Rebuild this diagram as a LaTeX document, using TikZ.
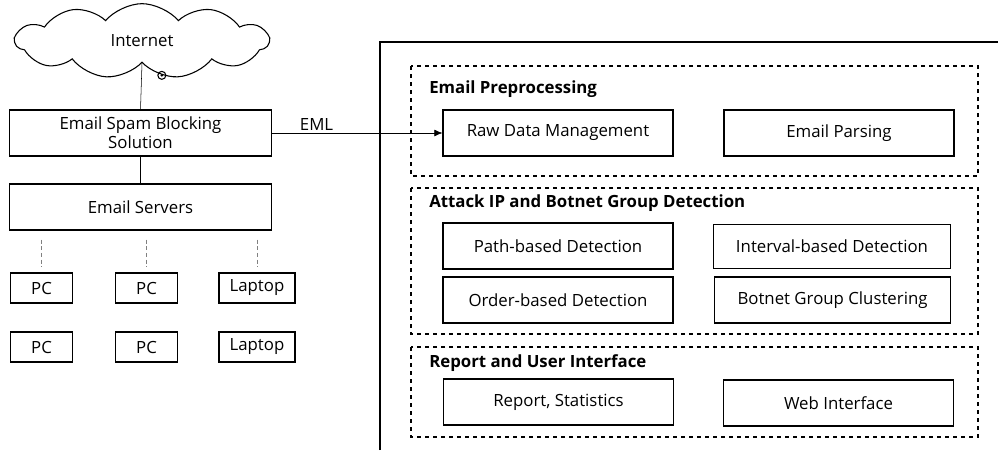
\documentclass[tikz,border=0pt]{standalone}
\usepackage{fontspec}
\setmainfont{Open Sans}
\usetikzlibrary{shapes.symbols,arrows.meta}
\begin{document}
\begin{tikzpicture}[x=0.75pt,y=-0.75pt,
    every node/.style={font=\fontsize{12.6}{14.5}\selectfont},
    unit/.style={draw,line width=0.8pt,minimum width=172.5pt,minimum height=34.5pt,inner sep=2pt},
    wideunit/.style={unit,minimum width=177.5pt,minimum height=33pt},
    host/.style={draw,line width=0.8pt,minimum height=22.5pt,minimum width=47pt,inner sep=2pt},
    group/.style={draw,dashed,line width=0.8pt},
    grouptitle/.style={anchor=west,inner sep=0pt,font=\fontsize{12.6}{14.5}\selectfont\bfseries},
    lanlink/.style={densely dashed,gray,line width=0.5pt,shorten <=6.75pt,shorten >=3.75pt}]
    \useasboundingbox (0,0) rectangle (998,450);
    %% network side
    \node[cloud,draw,line width=0.8pt,cloud puffs=11,cloud puff arc=100,aspect=3.6,
        minimum width=190pt,minimum height=56pt,inner sep=0pt] (internet) at (142,41) {Internet};
    \draw[line width=0.8pt] (internet.-60) circle (3pt);
    \fill (internet.-60) circle (1.1pt);
    \node[unit,minimum width=197pt,align=center] (spam) at (140.5,133)
        {Email Spam Blocking\\Solution};
    \node[unit,minimum width=197pt] (servers) at (140.5,207) {Email Servers};
    \node[host] (pcA) at (41.5,288) {PC};
    \node[host] (pcB) at (146.5,288) {PC};
    \node[host,minimum width=57pt] (laptopA) at (257,288) {Laptop};
    \node[host] (pcC) at (41.5,347) {PC};
    \node[host] (pcD) at (146.5,347) {PC};
    \node[host,minimum width=57pt] (laptopB) at (257,347) {Laptop};
    \draw (internet.south) -- (spam.north);
    \draw (spam) -- (servers);
    \draw[lanlink] (pcA.north |- servers.south) -- (pcA.north);
    \draw[lanlink] (pcB.north |- servers.south) -- (pcB.north);
    \draw[lanlink] (laptopA.north |- servers.south) -- (laptopA.north);
    %% analysis system
    \draw[line width=0.8pt] (380,450) -- (380,42) -- (998,42);
    \draw[group] (411,66) rectangle (978,176);
    \draw[group] (411,188) rectangle (978,334);
    \draw[group] (411,347) rectangle (978,437);
    \node[grouptitle] (prepTitle) at (429,89) {Email Preprocessing};
    \node[grouptitle] (detTitle) at (429,203) {Attack IP and Botnet Group Detection};
    \node[grouptitle] (repTitle) at (429,363) {Report and User Interface};
    \node[unit] (raw) at (558,133) {Raw Data Management};
    \node[unit] (parse) at (839,133) {Email Parsing};
    \node[unit] (path) at (558,246) {Path-based Detection};
    \node[wideunit] (interval) at (832,246.5) {Interval-based Detection};
    \node[unit] (order) at (558,300) {Order-based Detection};
    \node[wideunit,minimum height=34.5pt] (botnet) at (832.5,300) {Botnet Group Clustering};
    \node[unit] (report) at (558.5,402) {Report, Statistics};
    \node[unit] (web) at (838.5,403) {Web Interface};
    %% mail feed
    \draw[-{Latex[length=6pt,width=5pt]}] (spam.east) -- (raw.west)
        node[pos=0.26,above,inner sep=2pt] {EML};
\end{tikzpicture}
\end{document}
